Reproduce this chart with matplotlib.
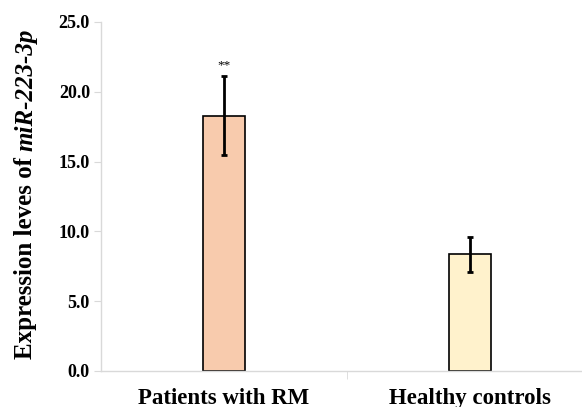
import matplotlib
matplotlib.use("Agg")
import matplotlib.pyplot as plt

groups = ["Patients with RM", "Healthy controls"]
means = [18.3, 8.35]
errors = [2.85, 1.27]
bar_colors = ["#F8CBAD", "#FFF2CC"]
sig_marks = ["**", ""]
y_ticks = [0.0, 5.0, 10.0, 15.0, 20.0, 25.0]

plt.rcParams["font.family"] = ["Liberation Serif", "DejaVu Serif"]

fig = plt.figure(figsize=(5.82, 4.07), dpi=100)
ax = fig.add_axes([101 / 582, 0.0885, 492 / 582, 0.8575])

x = list(range(len(groups)))
ax.bar(x, means, width=0.167, color=bar_colors, edgecolor="black", linewidth=1.2, zorder=2)
ax.errorbar(x, means, yerr=errors, fmt="none", ecolor="black", elinewidth=2, capsize=2.2, capthick=2, zorder=3)

for xi, m, e, s in zip(x, means, errors, sig_marks):
    if s:
        ax.text(xi, m + e + 0.35, s, ha="center", va="bottom", fontsize=9.5)

ax.set_xlim(-0.5, 1.5)
ax.set_ylim(0, 25)
ax.set_yticks(y_ticks)
ax.set_yticklabels([f"{t:.1f}" for t in y_ticks], fontsize=13, fontweight="bold")
ax.set_xticks(x)
ax.set_xticklabels(groups, fontsize=16.5, fontweight="bold")
ax.tick_params(axis="x", length=0, pad=12.5)
ax.set_xticks([0.5], minor=True)
ax.tick_params(axis="x", which="minor", length=6, color="#D9D9D9", direction="out")
ax.tick_params(axis="y", length=5, color="#D9D9D9", pad=3)

for side in ["top", "right"]:
    ax.spines[side].set_visible(False)
for side in ["left", "bottom"]:
    ax.spines[side].set_color("#D9D9D9")
    ax.spines[side].set_linewidth(1.0)

# y-axis label: upright part followed by italic gene name
fig.canvas.draw()
renderer = fig.canvas.get_renderer()
t1 = fig.text(26 / 582, 1 - 359 / 407, "Expression leves of ", rotation=90,
              ha="center", va="bottom", fontsize=18, fontweight="bold")
bb = t1.get_window_extent(renderer)
fig.text(26 / 582, bb.y1 / fig.bbox.height, "miR-223-3p", rotation=90,
         ha="center", va="bottom", fontsize=18, fontweight="bold", fontstyle="italic")

fig.savefig("out.png", dpi=100)
